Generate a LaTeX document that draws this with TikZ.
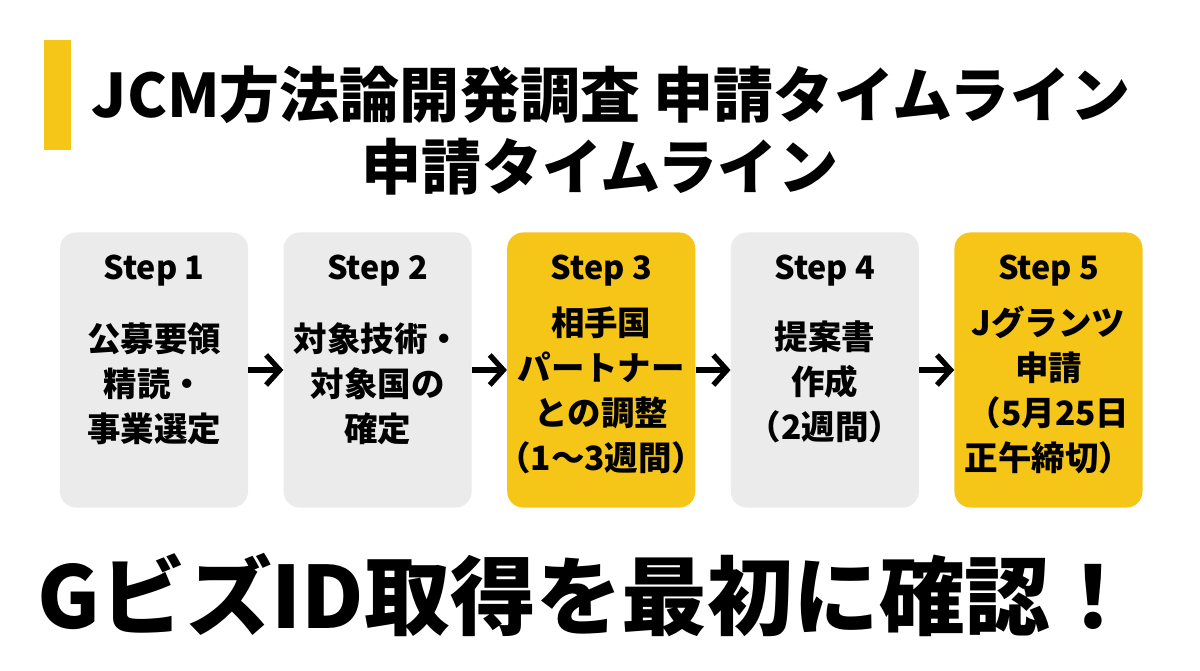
\documentclass[tikz,border=0pt]{standalone}
\usepackage{fontspec}
\setmainfont{Noto Sans CJK JP}
\usetikzlibrary{positioning}
\usetikzlibrary{arrows.meta}
\definecolor{giallo}{HTML}{F5C518}
\definecolor{grigio}{HTML}{EBEBEB}

\begin{document}
\begin{tikzpicture}[x=0.025cm,y=-0.025cm,align=center,node distance=0.875cm,
passo/.style={rounded corners=0.4cm,minimum width=4.7cm,minimum height=6.875cm,inner sep=0pt},
grigia/.style={passo,fill=grigio},
gialla/.style={passo,fill=giallo},
etichetta/.style={font=\fontsize{23}{27}\selectfont\bfseries},
testo/.style={font=\fontsize{23.8}{32}\selectfont\bfseries},
titolo/.style={font=\fontsize{42.7}{50}\selectfont\bfseries},
freccia/.style={line width=3.8pt,-{Straight Barb[length=3.4mm,width=7.5mm]}}
]
\useasboundingbox (0,0) rectangle (1200,670);
%--
\fill[giallo] (44,40) rectangle (71,150);
\node[titolo] (t1) at (611,95) {JCM方法論開発調査 申請タイムライン};
\node[titolo] (t2) at (600,167) {申請タイムライン};
%--
\node[grigia](b1) at (154,370){};
\node[grigia,right=of b1](b2){};
\node[gialla,right=of b2](b3){};
\node[grigia,right=of b3](b4){};
\node[gialla,right=of b4](b5){};
%--
\node[etichetta] (e1) at ([yshift=-0.95cm]b1.north){Step 1};
\node[etichetta] (e2) at ([yshift=-0.95cm]b2.north){Step 2};
\node[etichetta] (e3) at ([yshift=-0.95cm]b3.north){Step 3};
\node[etichetta] (e4) at ([yshift=-0.95cm]b4.north){Step 4};
\node[etichetta] (e5) at ([yshift=-0.95cm]b5.north){Step 5};
%--
\node[testo] (c1) at ([yshift=-0.34cm]b1.center){公募要領\\精読・\\事業選定};
\node[testo] (c2) at ([yshift=-0.34cm]b2.center){対象技術・\\対象国の\\確定};
\node[testo] (c3) at ([yshift=-0.5cm]b3.center){相手国\\パートナー\\との調整\\（1〜3週間）};
\node[testo] (c4) at ([yshift=-0.29cm]b4.center){提案書\\作成\\（2週間）};
\node[testo] (c5) at ([yshift=-0.5cm]b5.center){Jグランツ\\申請\\（5月25日\\正午締切）};
%--
\draw[freccia] (b1) -- (b2);
\draw[freccia] (b2) -- (b3);
\draw[freccia] (b3) -- (b4);
\draw[freccia] (b4) -- (b5);
%--
\node[font=\fontsize{61}{64}\selectfont\bfseries] (g) at (587,595) {GビズID取得を最初に確認！};
\end{tikzpicture}
\end{document}
